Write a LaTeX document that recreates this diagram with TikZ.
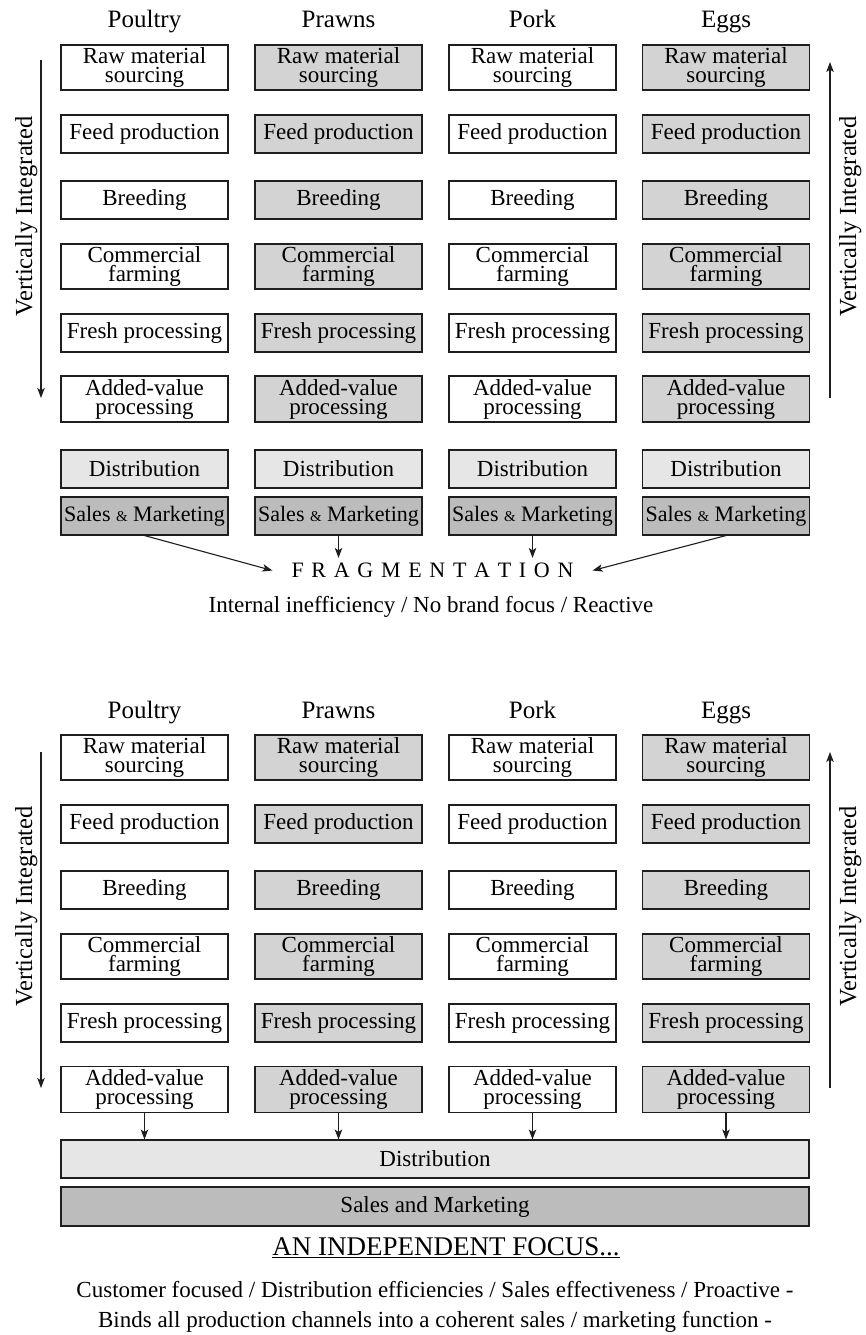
\documentclass[tikz,border=0pt]{standalone}
\usepackage{fontspec}
\setmainfont{Liberation Serif}
\usetikzlibrary{arrows.meta}
\definecolor{boxgray}{RGB}{211,211,211}
\definecolor{distgray}{RGB}{230,230,230}
\definecolor{salesgray}{RGB}{188,188,188}
\definecolor{edge}{RGB}{30,30,30}
\newcommand{\smallamp}{{\fontsize{15}{15}\selectfont\&}}
\newcommand{\lsp}{\kern7.7pt}
\begin{document}
\begin{tikzpicture}[x=1pt,y=-1pt,
  box/.style={draw=edge, line width=1.1pt, minimum width=167pt, inner sep=0pt,
    align=center, font=\fontsize{23}{19}\selectfont},
  salesbox/.style={box, font=\fontsize{22}{19}\selectfont},
  widebox/.style={box, minimum width=748pt},
  hdr/.style={anchor=base, inner sep=0pt, font=\fontsize{25}{25}\selectfont},
  vlabel/.style={anchor=base, rotate=90, inner sep=0pt, font=\fontsize{24.5}{24.5}\selectfont},
  txt/.style={anchor=base, inner sep=0pt, font=\fontsize{23}{23}\selectfont},
  arr/.style={draw=edge, line width=1.1pt, -{Stealth[length=10pt,width=7.5pt,inset=2.5pt]}}
]
\useasboundingbox (0,0) rectangle (865,1335);

% ---------------- TOP SECTION ----------------
\foreach \c/\x/\f/\name in {1/144.5/white/Poultry,2/338.5/boxgray/Prawns,3/532.5/white/Pork,4/726/boxgray/Eggs}{
  \node[hdr] (T-h\c) at (\x,28) {\name};
  \node[box, fill=\f, minimum height=45pt] (T-raw\c) at (\x,67.5) {Raw material\\sourcing};
  \node[box, fill=\f, minimum height=38pt] (T-feed\c) at (\x,134) {Feed production};
  \node[box, fill=\f, minimum height=38pt] (T-breed\c) at (\x,200) {Breeding};
  \node[box, fill=\f, minimum height=45pt] (T-com\c) at (\x,266.5) {Commercial\\farming};
  \node[box, fill=\f, minimum height=38pt] (T-fresh\c) at (\x,333) {Fresh processing};
  \node[box, fill=\f, minimum height=46pt] (T-add\c) at (\x,399) {Added-value\\processing};
  \node[box, fill=distgray, minimum height=38pt] (T-dist\c) at (\x,469) {Distribution};
  \node[salesbox, fill=salesgray, minimum height=38pt] (T-sal\c) at (\x,516) {Sales \smallamp\ Marketing};
}

\node[inner xsep=19pt, inner ysep=5pt, font=\fontsize{22}{22}\selectfont] (frag) at (432.5,570.5)
  {F\lsp R\lsp A\lsp G\lsp M\lsp E\lsp N\lsp T\lsp A\lsp T\lsp I\lsp O\lsp N};
\node[txt] (intern) at (431,612) {Internal inefficiency / No brand focus / Reactive};

\draw[arr] (T-sal1.south) -- (frag.west);
\draw[arr] (T-sal2.south) -- (T-sal2.south |- frag.north);
\draw[arr] (T-sal3.south) -- (T-sal3.south |- frag.north);
\draw[arr] (T-sal4.south) -- (frag.east);

\coordinate (TLa) at (41,60);
\coordinate (TLb) at (41,398);
\coordinate (TRa) at (830,398);
\coordinate (TRb) at (830,62);
\draw[arr] (TLa) -- (TLb);
\draw[arr] (TRa) -- (TRb);
\node[vlabel] (T-vl) at (32,216.5) {Vertically Integrated};
\node[vlabel] (T-vr) at (856,216.5) {Vertically Integrated};

% ---------------- BOTTOM SECTION ----------------
\foreach \c/\x/\f/\name in {1/144.5/white/Poultry,2/338.5/boxgray/Prawns,3/532.5/white/Pork,4/726/boxgray/Eggs}{
  \node[hdr] (B-h\c) at (\x,718) {\name};
  \node[box, fill=\f, minimum height=45pt] (B-raw\c) at (\x,757.5) {Raw material\\sourcing};
  \node[box, fill=\f, minimum height=38pt] (B-feed\c) at (\x,824) {Feed production};
  \node[box, fill=\f, minimum height=38pt] (B-breed\c) at (\x,890) {Breeding};
  \node[box, fill=\f, minimum height=45pt] (B-com\c) at (\x,956.5) {Commercial\\farming};
  \node[box, fill=\f, minimum height=38pt] (B-fresh\c) at (\x,1023) {Fresh processing};
  \node[box, fill=\f, minimum height=46pt] (B-add\c) at (\x,1089.5) {Added-value\\processing};
}
\node[widebox, fill=distgray, minimum height=38pt] (B-dist) at (435,1159) {Distribution};
\node[widebox, fill=salesgray, minimum height=39pt] (B-sal) at (435,1206.5) {Sales and Marketing};

\foreach \c in {1,2,3,4}{
  \draw[arr] (B-add\c.south) -- (B-add\c.south |- B-dist.north);
}

\coordinate (BLa) at (41,752);
\coordinate (BLb) at (41,1088);
\coordinate (BRa) at (830,1088);
\coordinate (BRb) at (830,752);
\draw[arr] (BLa) -- (BLb);
\draw[arr] (BRa) -- (BRb);
\node[vlabel] (B-vl) at (32,906.5) {Vertically Integrated};
\node[vlabel] (B-vr) at (856,906.5) {Vertically Integrated};

\node[anchor=base, inner sep=0pt, font=\fontsize{27}{27}\selectfont] (focus) at (446,1255)
  {\underline{AN INDEPENDENT FOCUS...}};
\node[txt] (cust) at (435,1297) {Customer focused / Distribution efficiencies / Sales effectiveness / Proactive -};
\node[txt] (binds) at (435,1327) {Binds all production channels into a coherent sales / marketing function -};
\end{tikzpicture}
\end{document}
